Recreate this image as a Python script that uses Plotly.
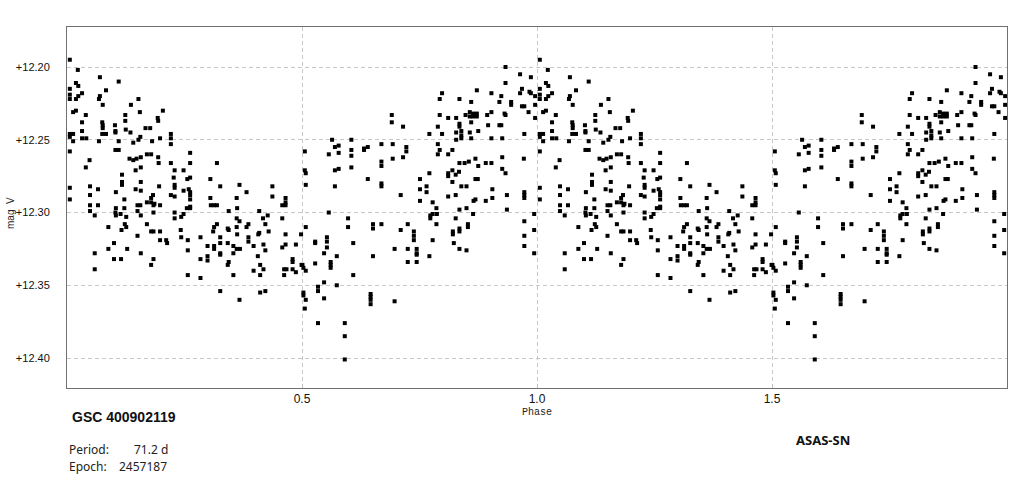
import plotly.graph_objects as go

phase_a = [0.006,0.023,0.070,0.110,0.019,0.024,0.006,0.083,0.006,0.032,
           0.024,0.070,0.006,0.019,0.068,0.152,0.076,0.136,0.204,0.019,
           0.013,0.155,0.040,0.124,0.193,0.194,0.032,0.075,0.124,0.076,
           0.102,0.167,0.177,0.076,0.125,0.032,0.103,0.103,0.135,0.083,
           0.075,0.006,0.013,0.006,0.013,0.032,0.041,0.068,0.110,0.156,
           0.152,0.141,0.181,0.198,0.006,0.103,0.110,0.133,0.141,0.148,
           0.157,0.170,0.179,0.194,0.195,0.048,0.040,0.157,0.146,0.117,
           0.117,0.117,0.157,0.006,0.049,0.066,0.104,0.146,0.157,0.196,
           0.006,0.049,0.122,0.179,0.183,0.170,0.179,0.186,0.198,0.049,
           0.066,0.104,0.122,0.150,0.156,0.184,0.049,0.103,0.104,0.114,
           0.150,0.184,0.059,0.126,0.157,0.088,0.123,0.126,0.116,0.170,
           0.179,0.184,0.198,0.198,0.150,0.100,0.059,0.088,0.128,0.157,
           0.184,0.100,0.115,0.179,0.059]
mag_a = [12.195,12.202,12.207,12.210,12.211,12.213,12.215,12.216,12.219,12.218,
         12.220,12.220,12.222,12.222,12.222,12.222,12.226,12.226,12.230,12.230,
         12.231,12.231,12.233,12.233,12.235,12.237,12.238,12.238,12.237,12.240,
         12.240,12.242,12.242,12.242,12.243,12.244,12.244,12.245,12.245,12.246,
         12.246,12.246,12.246,12.248,12.251,12.249,12.249,12.251,12.251,12.248,
         12.250,12.252,12.251,12.249,12.258,12.257,12.257,12.263,12.264,12.263,
         12.262,12.260,12.260,12.262,12.266,12.264,12.269,12.269,12.271,12.274,
         12.279,12.281,12.279,12.283,12.282,12.284,12.286,12.284,12.285,12.282,
         12.291,12.288,12.291,12.290,12.288,12.293,12.293,12.294,12.295,12.295,
         12.295,12.297,12.297,12.295,12.295,12.295,12.299,12.300,12.302,12.301,
         12.299,12.300,12.302,12.303,12.302,12.310,12.308,12.310,12.312,12.308,
         12.313,12.313,12.313,12.319,12.316,12.321,12.328,12.325,12.325,12.328,
         12.332,12.332,12.332,12.336,12.339]

phase_b = [0.221,0.221,0.221,0.262,0.221,0.262,0.319,0.229,0.248,0.256,
           0.262,0.305,0.227,0.326,0.367,0.229,0.229,0.382,0.221,0.229,
           0.248,0.259,0.262,0.262,0.262,0.305,0.361,0.306,0.313,0.319,
           0.229,0.262,0.262,0.255,0.248,0.344,0.362,0.243,0.229,0.319,
           0.313,0.311,0.342,0.344,0.361,0.367,0.361,0.382,0.386,0.362,
           0.242,0.211,0.213,0.243,0.257,0.284,0.326,0.386,0.386,0.313,
           0.313,0.299,0.326,0.342,0.354,0.361,0.368,0.397,0.326,0.326,
           0.299,0.299,0.284,0.257,0.354,0.344,0.342,0.257,0.284,0.354,
           0.397,0.326,0.367]
mag_b = [12.246,12.249,12.253,12.259,12.266,12.266,12.266,12.271,12.271,12.277,
         12.276,12.277,12.276,12.282,12.281,12.281,12.283,12.286,12.288,12.289,
         12.285,12.284,12.286,12.288,12.291,12.290,12.290,12.295,12.295,12.295,
         12.300,12.296,12.297,12.297,12.301,12.299,12.297,12.303,12.304,12.308,
         12.310,12.313,12.311,12.312,12.304,12.306,12.310,12.310,12.308,12.315,
         12.312,12.319,12.321,12.317,12.319,12.317,12.317,12.317,12.320,12.323,
         12.325,12.323,12.321,12.321,12.323,12.325,12.325,12.323,12.328,12.329,
         12.330,12.333,12.332,12.326,12.328,12.334,12.336,12.343,12.345,12.343,
         12.340,12.354,12.360]

phase_c = [0.564,0.605,0.570,0.578,0.557,0.578,0.605,0.605,0.506,0.506,
           0.508,0.570,0.578,0.605,0.508,0.570,0.437,0.437,0.465,0.465,
           0.458,0.465,0.409,0.557,0.417,0.427,0.458,0.598,0.422,0.429,
           0.409,0.407,0.508,0.598,0.465,0.498,0.418,0.465,0.487,0.528,
           0.528,0.553,0.553,0.553,0.609,0.458,0.422,0.547,0.574,0.406,
           0.480,0.480,0.499,0.501,0.503,0.508,0.528,0.561,0.561,0.561,
           0.411,0.418,0.411,0.462,0.467,0.462,0.480,0.487,0.609,0.547,
           0.574,0.534,0.534,0.411,0.422,0.503,0.503,0.508,0.506,0.547,
           0.534,0.591,0.591,0.591]
mag_c = [12.250,12.250,12.255,12.254,12.260,12.259,12.257,12.261,12.258,12.271,
         12.273,12.271,12.270,12.269,12.281,12.282,12.282,12.289,12.290,12.293,
         12.295,12.295,12.299,12.300,12.304,12.302,12.304,12.304,12.308,12.313,
         12.314,12.315,12.310,12.310,12.315,12.315,12.322,12.322,12.322,12.320,
         12.321,12.317,12.320,12.324,12.321,12.324,12.326,12.328,12.330,12.330,
         12.332,12.334,12.336,12.336,12.338,12.340,12.335,12.334,12.336,12.338,
         12.336,12.339,12.343,12.339,12.339,12.343,12.339,12.341,12.343,12.348,
         12.350,12.351,12.354,12.355,12.354,12.355,12.357,12.360,12.366,12.359,
         12.376,12.376,12.385,12.401]

phase_d = [0.798,0.793,0.793,0.811,0.691,0.691,0.715,0.789,0.771,0.798,
           0.789,0.793,0.789,0.811,0.632,0.640,0.632,0.669,0.693,0.722,
           0.722,0.715,0.693,0.669,0.669,0.640,0.771,0.811,0.811,0.751,
           0.765,0.669,0.669,0.751,0.765,0.710,0.811,0.751,0.778,0.786,
           0.778,0.787,0.773,0.773,0.786,0.651,0.651,0.669,0.710,0.725,
           0.738,0.738,0.738,0.778,0.697,0.725,0.744,0.744,0.744,0.771,
           0.651,0.725,0.744,0.646,0.646,0.646,0.646,0.697]
mag_d = [12.218,12.222,12.233,12.235,12.233,12.238,12.241,12.241,12.246,12.246,
         12.253,12.257,12.260,12.260,12.256,12.255,12.257,12.253,12.253,12.255,
         12.258,12.262,12.263,12.265,12.268,12.277,12.273,12.273,12.275,12.277,
         12.282,12.280,12.282,12.284,12.286,12.288,12.289,12.292,12.293,12.297,
         12.301,12.301,12.302,12.304,12.308,12.308,12.311,12.308,12.312,12.308,
         12.313,12.316,12.319,12.319,12.325,12.325,12.325,12.328,12.329,12.330,
         12.330,12.334,12.334,12.356,12.358,12.360,12.363,12.361]

phase_e = [0.933,0.964,0.987,0.933,0.872,0.903,0.968,0.984,0.964,0.987,
           0.996,0.835,0.860,0.924,0.920,0.945,0.945,0.968,0.973,0.996,
           0.982,0.848,0.857,0.864,0.864,0.872,0.872,0.894,0.903,0.931,
           0.933,0.857,0.828,0.835,0.835,0.860,0.896,0.920,0.924,0.996,
           0.828,0.839,0.839,0.857,0.875,0.828,0.839,0.860,0.903,0.926,
           0.973,0.820,0.835,0.846,0.855,0.869,0.875,0.891,0.903,0.926,
           0.926,0.933,0.972,0.820,0.834,0.827,0.820,0.839,0.850,0.869,
           0.874,0.827,0.865,0.869,0.891,0.905,0.905,0.936,0.936,0.973,
           0.973,0.973,0.835,0.850,0.864,0.994,0.827,0.973,0.994,0.821,
           0.821,0.835,0.835,0.853,0.853,0.823,0.835,0.850,0.973,0.973,
           0.994]
mag_e = [12.200,12.205,12.207,12.211,12.216,12.218,12.215,12.217,12.218,12.218,
         12.220,12.222,12.224,12.220,12.224,12.224,12.226,12.227,12.227,12.226,
         12.231,12.233,12.231,12.232,12.234,12.232,12.234,12.233,12.231,12.232,
         12.233,12.234,12.235,12.239,12.241,12.238,12.240,12.240,12.240,12.235,
         12.245,12.244,12.247,12.245,12.244,12.250,12.249,12.249,12.249,12.249,
         12.246,12.257,12.266,12.266,12.265,12.263,12.268,12.266,12.266,12.262,
         12.270,12.273,12.263,12.271,12.272,12.274,12.279,12.282,12.282,12.277,
         12.277,12.288,12.292,12.291,12.292,12.284,12.290,12.288,12.298,12.286,
         12.288,12.290,12.298,12.297,12.301,12.301,12.304,12.306,12.312,12.313,
         12.315,12.313,12.311,12.308,12.310,12.321,12.325,12.326,12.316,12.323,
         12.328]

# axis ticks
x_ticks = [0.5, 1.0, 1.5]
x_tick_labels = ["0.5", "1.0", "1.5"]
y_ticks = [12.20, 12.25, 12.30, 12.35, 12.40]
y_tick_labels = ["+12.20", "+12.25", "+12.30", "+12.35", "+12.40"]

star_name = "GSC 400902119"
period_text = "71.2 d"
epoch_text = "2457187"
survey = "ASAS-SN"

phase = phase_a + phase_b + phase_c + phase_d + phase_e
mag = mag_a + mag_b + mag_c + mag_d + mag_e
# show two cycles
x_all = phase + [p + 1 for p in phase]
y_all = mag + mag

fig = go.Figure()
fig.add_trace(go.Scatter(
    x=x_all, y=y_all, mode="markers",
    marker=dict(symbol="square", size=4, color="#000000", line=dict(width=0)),
    hoverinfo="skip", showlegend=False,
))

W, H = 1031, 486
ml, mr, mt, mb = 67, 24, 27, 98
pw, ph = W - ml - mr, H - mt - mb

def px(x):
    return (x - ml) / pw

def py(y):
    return (H - mb - y) / ph

grid = dict(showgrid=True, gridcolor="#c8c8c8", griddash="4px,3px", gridwidth=1)
fig.update_layout(
    width=W, height=H,
    margin=dict(l=ml, r=mr, t=mt, b=mb),
    paper_bgcolor="white", plot_bgcolor="white",
    font=dict(family="Liberation Sans, Arial, sans-serif", size=11, color="#111"),
    xaxis=dict(range=[0, 2], tickvals=x_ticks, ticktext=x_tick_labels,
               ticks="inside", ticklen=4, tickcolor="#c0c0c0",
               showline=True, mirror=True, linecolor="#707070", linewidth=1,
               zeroline=False, ticklabelstandoff=0, tickfont=dict(size=12), **grid),
    yaxis=dict(range=[12.4206, 12.1725], tickvals=y_ticks, ticktext=y_tick_labels,
               ticks="", showline=True, mirror=True, linecolor="#707070", linewidth=1,
               zeroline=False, ticklabelstandoff=14, **grid),
)

ann = []
ann.append(dict(text="Phase", x=0.5, y=py(412), xref="paper", yref="paper",
                showarrow=False, font=dict(family="Courier New, Liberation Mono, monospace", size=10, color="#222"),
                xanchor="center", yanchor="middle"))
ann.append(dict(text="mag\u00a0\u00a0V", x=px(10), y=py(213), xref="paper", yref="paper",
                showarrow=False, textangle=-90,
                font=dict(family="Liberation Sans, Arial, sans-serif", size=10, color="#222"),
                xanchor="center", yanchor="middle"))
ann.append(dict(text="<b>" + star_name + "</b>", x=px(70), y=py(417), xref="paper", yref="paper",
                showarrow=False, font=dict(family="Liberation Sans, Arial, sans-serif", size=14, color="#111"),
                xanchor="left", yanchor="middle"))
info_font = dict(family="Noto Sans, Open Sans, sans-serif", size=12, color="#222")
ann.append(dict(text="Period:", x=px(67), y=py(449), xref="paper", yref="paper",
                showarrow=False, font=info_font, xanchor="left", yanchor="middle"))
ann.append(dict(text=period_text, x=px(132), y=py(449), xref="paper", yref="paper",
                showarrow=False, font=info_font, xanchor="left", yanchor="middle"))
ann.append(dict(text="Epoch:", x=px(67), y=py(467), xref="paper", yref="paper",
                showarrow=False, font=info_font, xanchor="left", yanchor="middle"))
ann.append(dict(text=epoch_text, x=px(117), y=py(467), xref="paper", yref="paper",
                showarrow=False, font=info_font, xanchor="left", yanchor="middle"))
ann.append(dict(text="<b>" + survey + "</b>", x=px(823), y=py(440), xref="paper", yref="paper",
                showarrow=False, font=dict(family="Noto Sans, Open Sans, sans-serif", size=13, color="#111"),
                xanchor="center", yanchor="middle"))
fig.update_layout(annotations=ann)

fig.write_html("out.html", config={"displayModeBar": False},
               post_script="document.body.style.margin='0';document.body.style.padding='0';")
